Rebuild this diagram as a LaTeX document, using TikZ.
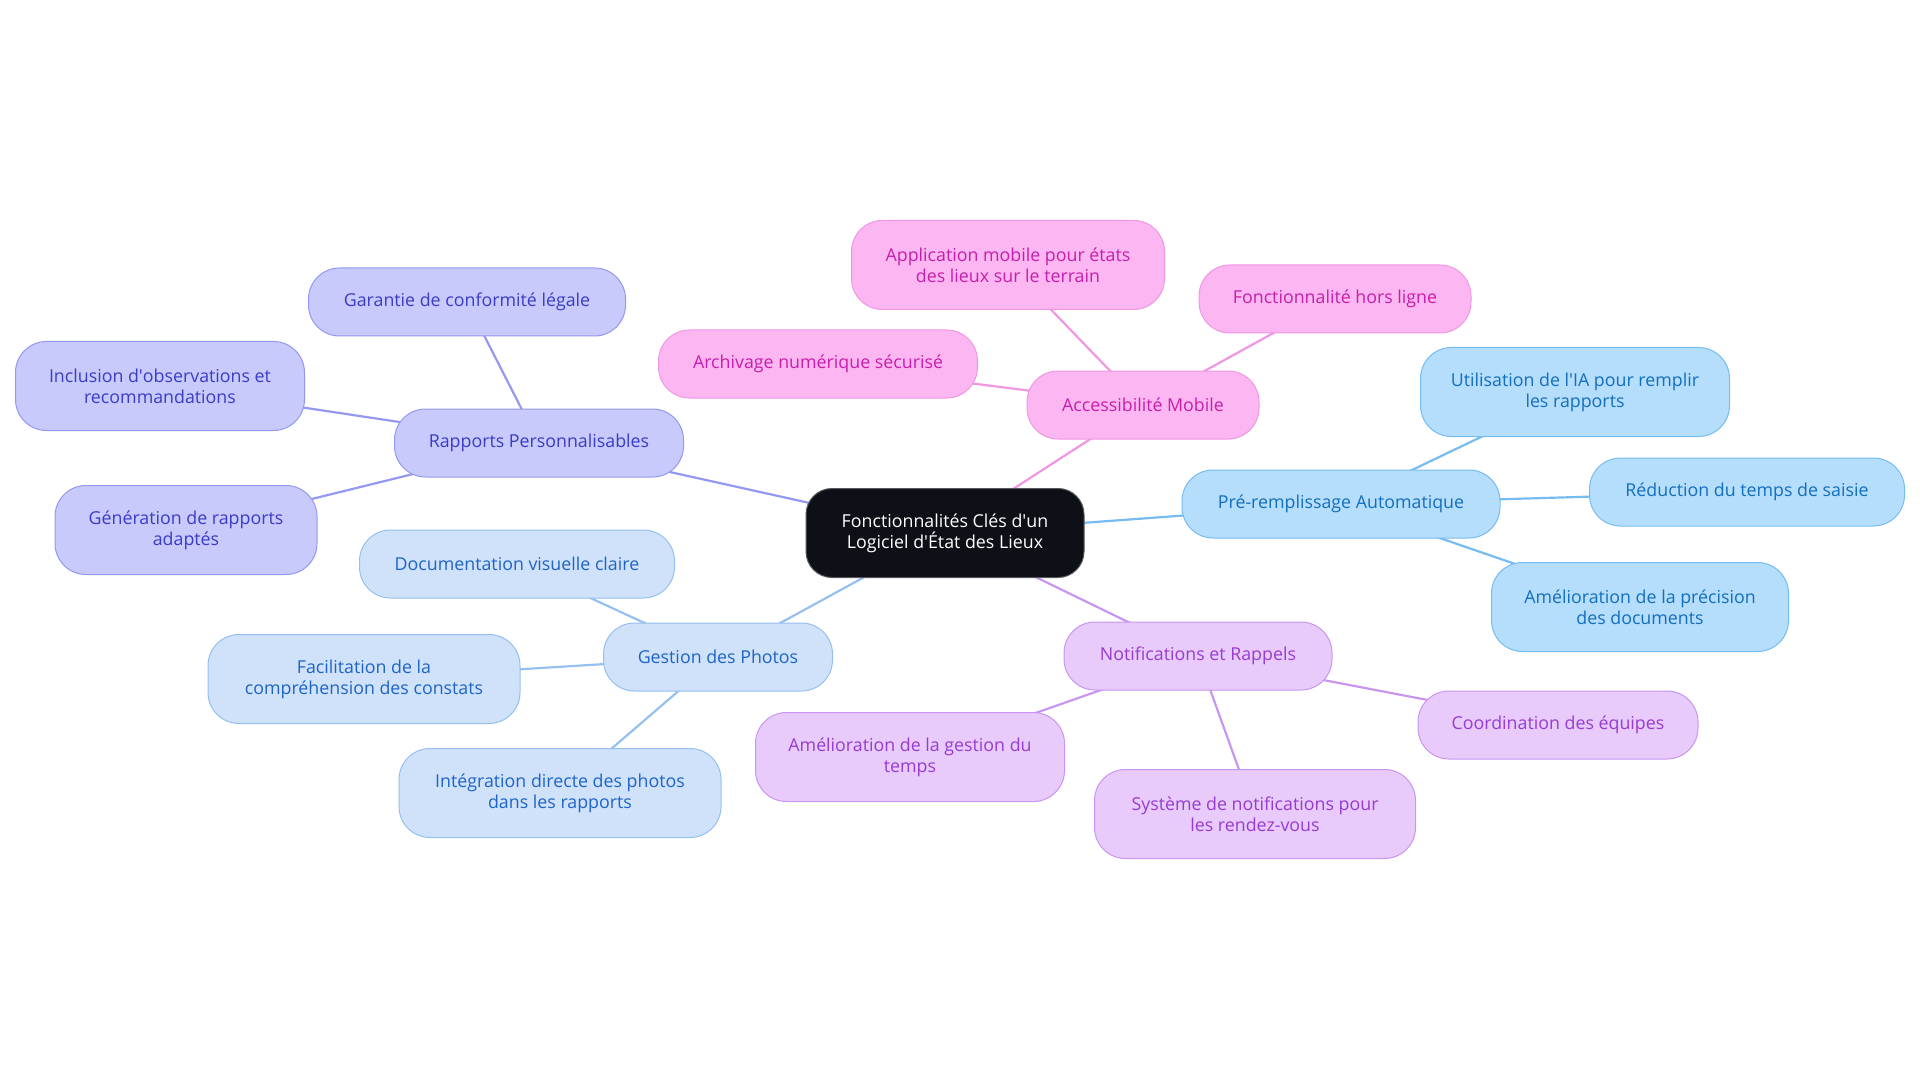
\documentclass[tikz,border=0pt]{standalone}
\usepackage{fontspec}
\setmainfont{Open Sans}
\usetikzlibrary{positioning, backgrounds}
\definecolor{rootcolor}{RGB}{13,17,23}
\definecolor{rpfill}{RGB}{200,202,251}
\definecolor{rpline}{RGB}{148,152,240}
\definecolor{rptext}{RGB}{58,60,200}
\definecolor{gpfill}{RGB}{207,226,250}
\definecolor{gpline}{RGB}{150,192,240}
\definecolor{gptext}{RGB}{30,100,200}
\definecolor{amfill}{RGB}{252,182,242}
\definecolor{amline}{RGB}{240,150,226}
\definecolor{amtext}{RGB}{200,30,170}
\definecolor{pafill}{RGB}{180,222,252}
\definecolor{paline}{RGB}{118,188,240}
\definecolor{patext}{RGB}{20,110,190}
\definecolor{nrfill}{RGB}{232,202,251}
\definecolor{nrline}{RGB}{200,150,240}
\definecolor{nrtext}{RGB}{150,60,210}
\newcommand{\apos}{\textquotesingle}

\begin{document}
\begin{tikzpicture}[x=1pt, y=-1pt,
    every node/.style={font=\fontsize{17.8}{21}\selectfont, align=center, inner sep=0pt},
    idea/.style={draw, line width=1pt, rounded corners=31pt, minimum height=68pt},
    twoline/.style={minimum height=89pt},
    root/.style={fill=rootcolor, draw=rootcolor!70!white, line width=1pt, rounded corners=26pt,
      text=white, minimum width=278pt, minimum height=89pt},
    rp/.style={idea, fill=rpfill, draw=rpline, text=rptext},
    gp/.style={idea, fill=gpfill, draw=gpline, text=gptext},
    am/.style={idea, fill=amfill, draw=amline, text=amtext},
    pa/.style={idea, fill=pafill, draw=paline, text=patext},
    nr/.style={idea, fill=nrfill, draw=nrline, text=nrtext},
    link/.style={line width=2.2pt}]
  \useasboundingbox (0,0) rectangle (1920,1083);

  \node[root] (root) at (945,533) {Fonctionnalités Clés d\apos un\\Logiciel d\apos État des Lieux};

  % Rapports
  \node[rp, minimum width=289pt] (rp) at (539,443) {Rapports Personnalisables};
  \node[rp, minimum width=317pt] (rp1) at (467,302) {Garantie de conformité légale};
  \node[rp, twoline, minimum width=289pt] (rp2) at (160,386) {Inclusion d\apos observations et\\recommandations};
  \node[rp, twoline, minimum width=262pt] (rp3) at (186,530) {Génération de rapports\\adaptés};

  % Photos
  \node[gp, minimum width=229pt] (gp) at (718,657) {Gestion des Photos};
  \node[gp, minimum width=315pt] (gp1) at (517,564) {Documentation visuelle claire};
  \node[gp, twoline, minimum width=312pt] (gp2) at (364,679) {Facilitation de la\\compréhension des constats};
  \node[gp, twoline, minimum width=322pt] (gp3) at (560,793) {Intégration directe des photos\\dans les rapports};

  % Mobile
  \node[am, minimum width=232pt] (am) at (1143,405) {Accessibilité Mobile};
  \node[am, twoline, minimum width=313pt] (am1) at (1008,265) {Application mobile pour états\\des lieux sur le terrain};
  \node[am, minimum width=272pt] (am2) at (1335,299) {Fonctionnalité hors ligne};
  \node[am, minimum width=319pt] (am3) at (818,364) {Archivage numérique sécurisé};

  % Pre-remplissage
  \node[pa, minimum width=318pt] (pa) at (1341,504) {Pré-remplissage Automatique};
  \node[pa, twoline, minimum width=309pt] (pa1) at (1575,392) {Utilisation de l\apos IA pour remplir\\les rapports};
  \node[pa, minimum width=315pt] (pa2) at (1747,492) {Réduction du temps de saisie};
  \node[pa, twoline, minimum width=297pt] (pa3) at (1640,607) {Amélioration de la précision\\des documents};

  % Notifications
  \node[nr, minimum width=268pt] (nr) at (1198,656) {Notifications et Rappels};
  \node[nr, twoline, minimum width=309pt] (nr1) at (910,757) {Amélioration de la gestion du\\temps};
  \node[nr, twoline, minimum width=321pt] (nr2) at (1255,814) {Système de notifications pour\\les rendez-vous};
  \node[nr, minimum width=280pt] (nr3) at (1558,725) {Coordination des équipes};

  \begin{scope}[on background layer]
    \draw[link, rpline] (root.center) -- (rp.center);
    \foreach \n in {rp1, rp2, rp3} \draw[link, rpline] (rp.center) -- (\n.center);
    \draw[link, gpline] (root.center) -- (gp.center);
    \foreach \n in {gp1, gp2, gp3} \draw[link, gpline] (gp.center) -- (\n.center);
    \draw[link, amline] (root.center) -- (am.center);
    \foreach \n in {am1, am2, am3} \draw[link, amline] (am.center) -- (\n.center);
    \draw[link, paline] (root.center) -- (pa.center);
    \foreach \n in {pa1, pa2, pa3} \draw[link, paline] (pa.center) -- (\n.center);
    \draw[link, nrline] (root.center) -- (nr.center);
    \foreach \n in {nr1, nr2, nr3} \draw[link, nrline] (nr.center) -- (\n.center);
  \end{scope}
\end{tikzpicture}
\end{document}
